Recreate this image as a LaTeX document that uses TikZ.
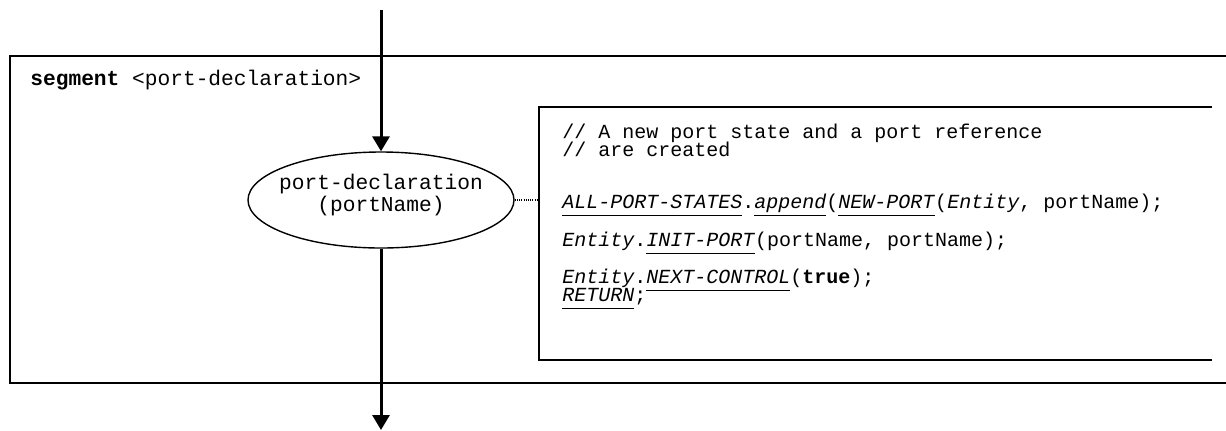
\documentclass[tikz,border=0pt]{standalone}
\usepackage{fontspec}
\setmainfont{Liberation Mono}
\usetikzlibrary{arrows.meta,shapes.geometric}
\newcommand{\ulit}[1]{\underline{\vphantom{p}\textit{#1}}}
\begin{document}
\begin{tikzpicture}[x=0.5pt,y=-0.5pt,
  outerframe/.style={line width=1pt},
  innerframe/.style={line width=0.8pt},
  flow/.style={line width=1.5pt,-{Triangle[width=8.5pt,length=7.5pt]}},
  dots/.style={line width=1.1pt,dash pattern=on 0.5pt off 0.6pt},
  headtext/.style={anchor=base west,inner sep=0,font=\fontsize{10.6}{12}\selectfont},
  codeline/.style={anchor=base west,inner sep=0,font=\fontsize{10}{12}\selectfont},
  procbox/.style={ellipse,draw,line width=0.7pt,minimum width=133pt,minimum height=48pt,inner sep=0},
  proctext/.style={align=center,inner sep=0,font=\fontsize{10.6}{11}\selectfont}]
\useasboundingbox (0,0) rectangle (1226,430);
% frames
\draw[outerframe] (1226,56) -- (10,56) -- (10,383) -- (1226,383);
\draw[innerframe] (1212,107) -- (539,107) -- (539,360) -- (1212,360);
% heading
\node[headtext] (seg) at (30,85) {\textbf{segment} <port-declaration>};
% process ellipse
\node[procbox] (decl) at (381,200) {};
\node[proctext] (decltext) at (381,195) {port-declaration\\(portName)};
% connectors
\coordinate (top) at (381,10);
\coordinate (bot) at (381,430);
\coordinate (boxleft) at (539,200);
\draw[flow] (top) -- (decl.north);
\draw[flow] (decl.south) -- (bot);
\draw[dots] (decl.east) -- (boxleft);
% code
\node[codeline] (c1) at (562,138) {// A new port state and a port reference};
\node[codeline] (c2) at (562,156) {// are created};
\node[codeline] (c3) at (562,208) {\ulit{ALL-PORT-STATES}.\ulit{append}(\ulit{NEW-PORT}(\textit{Entity}, portName);};
\node[codeline] (c4) at (562,246) {\textit{Entity}.\ulit{INIT-PORT}(portName, portName);};
\node[codeline] (c5) at (562,283) {\textit{Entity}.\ulit{NEXT-CONTROL}(\textbf{true});};
\node[codeline] (c6) at (562,301) {\ulit{RETURN};};
\end{tikzpicture}
\end{document}
